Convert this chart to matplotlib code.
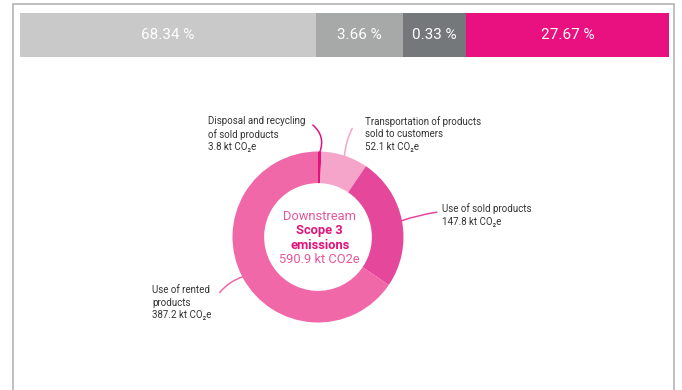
import numpy as np
import matplotlib.pyplot as plt
from matplotlib.patches import Rectangle

plt.rcParams['font.family'] = ['Roboto', 'DejaVu Sans']

# top bar: labels as printed, widths as drawn (the source bar is not to scale)
share_labels = ['68.34 %', '3.66 %', '0.33 %', '27.67 %']
share_widths = [45.65, 13.35, 9.70, 31.30]
share_colors = ['#c8c9c8', '#a7a9a9', '#75787b', '#e8117f']

# donut
categories = ['Disposal and recycling\nof sold products',
              'Transportation of products\nsold to customers',
              'Use of sold products',
              'Use of rented\nproducts']
emissions = [3.8, 52.1, 147.8, 387.2]
total = 590.9
slice_colors = ['#e4127c', '#f5a5ca', '#e5479b', '#f068a8']

W, H = 682, 390
fig = plt.figure(figsize=(W / 100, H / 100), dpi=100)


def px_axes(x0, y0, x1, y1):
    # axes placed with pixel coords measured from the top-left corner
    return fig.add_axes([x0 / W, 1 - y1 / H, (x1 - x0) / W, (y1 - y0) / H])


# grey frame round the panel
fig.patches.append(Rectangle((12.5 / W, -0.05), (674 - 12.5) / W, 1.05 - 4 / H,
                             transform=fig.transFigure, fill=False,
                             edgecolor='#b4b4b4', lw=1.2))

# stacked bar
bax = px_axes(19.5, 12.7, 669, 56.7)
lefts = np.concatenate([[0], np.cumsum(share_widths)[:-1]])
bax.barh(0, share_widths, left=lefts, height=1, color=share_colors, linewidth=0)
for l, w, s in zip(lefts, share_widths, share_labels):
    bax.text(l + w / 2, 0, s, ha='center', va='center', color='white', fontsize=11)
bax.set_xlim(0, sum(share_widths))
bax.set_ylim(-0.5, 0.5)
bax.axis('off')

# donut
cx, cy, r = 318, 237, 85.5
pax = px_axes(cx - r, cy - r, cx + r, cy + r)
wedges, _ = pax.pie(emissions, colors=slice_colors, startangle=90, counterclock=False,
                    radius=1, wedgeprops=dict(width=0.37, edgecolor='none'))
pax.set_xlim(-1, 1)
pax.set_ylim(-1, 1)
pax.axis('off')

label_pos = [(-1.29, 1.205), (0.55, 1.205), (1.45, 0.257), (-1.94, -0.77)]
leader_end = [(-0.06, 1.31), (0.40, 1.27), (1.39, 0.29), (-1.15, -0.65)]
leader_rad = [-0.35, 0.1, 0.05, -0.15]

for w, name, val, col, pos, end, rad in zip(wedges, categories, emissions, slice_colors,
                                            label_pos, leader_end, leader_rad):
    ang = np.deg2rad((w.theta1 + w.theta2) / 2)
    start = (0.99 * np.cos(ang), 0.99 * np.sin(ang))
    pax.annotate('', xy=start, xytext=end, annotation_clip=False,
                 arrowprops=dict(arrowstyle='-', color=col, lw=1.1,
                                 shrinkA=0, shrinkB=0,
                                 connectionstyle=f'arc3,rad={rad}'))
    pax.text(pos[0], pos[1], f'{name}\n{val:.1f} kt CO\u2082e', ha='left', va='center',
             fontsize=7, color='#333333', linespacing=1.3, clip_on=False)

fs = 9.3
pax.text(0.02, 0.237, 'Downstream', ha='center', va='center', fontsize=fs, color='#e8559a')
pax.text(0.02, 0.074, 'Scope 3', ha='center', va='center', fontsize=fs,
         fontweight='bold', color='#e2127a')
pax.text(0.02, -0.094, 'emissions', ha='center', va='center', fontsize=fs,
         fontweight='bold', color='#e2127a')
pax.text(0.02, -0.26, f'{total} kt CO2e', ha='center', va='center', fontsize=fs,
         color='#e8559a')

fig.savefig('out.png', dpi=100)
